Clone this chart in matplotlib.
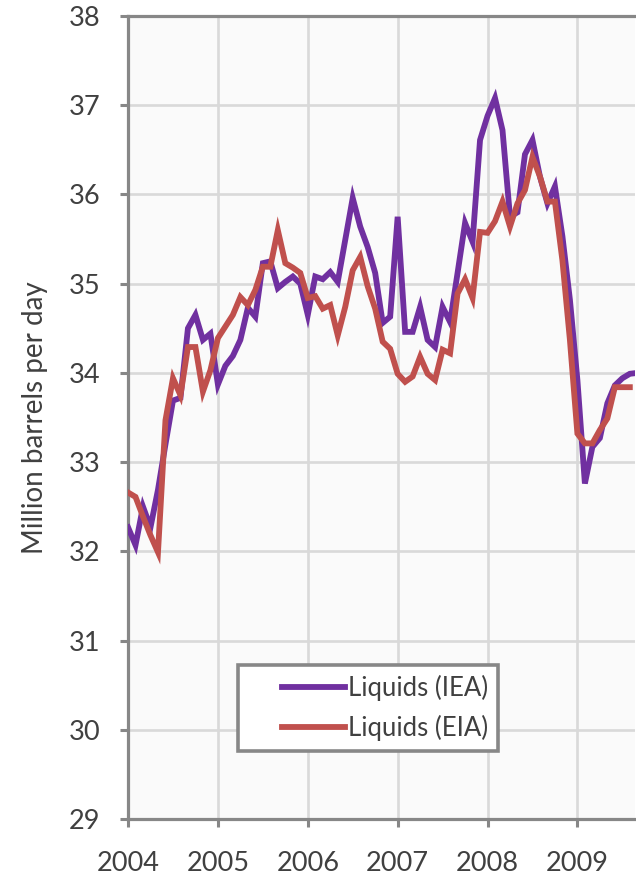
import matplotlib
matplotlib.use('Agg')
import matplotlib.pyplot as plt
from matplotlib.legend_handler import HandlerLine2D
import numpy as np

plt.rcParams['font.family'] = ['Lato', 'DejaVu Sans']

# monthly values, starting Jan 2004
iea_liquids = [32.27, 32.07, 32.50, 32.27, 32.69, 33.20, 33.69, 33.72, 34.50, 34.65, 34.37, 34.44,
               33.87, 34.08, 34.19, 34.37, 34.73, 34.63, 35.23, 35.25, 34.95, 35.02, 35.08, 35.00,
               34.65, 35.08, 35.05, 35.13, 35.02, 35.49, 35.96, 35.64, 35.41, 35.12, 34.56, 34.63,
               35.75, 34.46, 34.46, 34.74, 34.37, 34.29, 34.74, 34.57, 35.12, 35.68, 35.47, 36.61,
               36.88, 37.08, 36.72, 35.75, 35.80, 36.45, 36.61, 36.20, 35.90, 36.09, 35.53, 34.82,
               33.92, 32.76, 33.17, 33.27, 33.66, 33.86, 33.94, 33.99, 34.00]

eia_liquids = [32.66, 32.61, 32.39, 32.18, 31.99, 33.47, 33.94, 33.75, 34.29, 34.29, 33.79, 34.03,
               34.39, 34.52, 34.65, 34.85, 34.76, 34.93, 35.19, 35.19, 35.60, 35.23, 35.18, 35.12,
               34.84, 34.86, 34.72, 34.76, 34.42, 34.74, 35.15, 35.30, 34.97, 34.72, 34.35, 34.27,
               33.99, 33.90, 33.96, 34.18, 33.99, 33.92, 34.26, 34.22, 34.89, 35.05, 34.84, 35.58,
               35.57, 35.70, 35.92, 35.64, 35.90, 36.05, 36.42, 36.20, 35.92, 35.92, 35.26, 34.37,
               33.32, 33.21, 33.21, 33.36, 33.49, 33.84, 33.84, 33.84]

year_ticks = [2004, 2005, 2006, 2007, 2008, 2009]
value_ticks = [29, 30, 31, 32, 33, 34, 35, 36, 37, 38]

t_iea = 2004 + np.arange(len(iea_liquids)) / 12.0
t_eia = 2004 + np.arange(len(eia_liquids)) / 12.0

axis_grey = '#878787'
text_grey = '#404040'

fig = plt.figure(figsize=(6.36, 8.8), dpi=100)
ax = fig.add_axes([0.2013, 0.0693, 0.797, 0.9125])
ax.set_facecolor('#fafafa')

ax.plot(t_iea, iea_liquids, color='#7030a0', lw=4.2, label='Liquids (IEA)',
        solid_joinstyle='miter', zorder=3)
ax.plot(t_eia, eia_liquids, color='#c0504d', lw=4.2, label='Liquids (EIA)',
        solid_joinstyle='miter', zorder=4)

ax.set_xlim(2004, 2009.64)
ax.set_ylim(29, 38)
ax.set_xticks(year_ticks)
ax.set_yticks(value_ticks)
ax.grid(True, color='#d9d9d9', lw=1.9, zorder=0)
ax.set_axisbelow(True)

for side in ['left', 'bottom', 'top']:
    ax.spines[side].set_color(axis_grey)
    ax.spines[side].set_linewidth(2.3)
ax.spines['right'].set_visible(False)

ax.tick_params(axis='both', direction='out', length=6, width=2.2, color=axis_grey,
               labelsize=19.5, labelcolor=text_grey)
ax.tick_params(axis='y', pad=14)
ax.tick_params(axis='x', pad=17)

ax.set_ylabel('Million barrels per day', fontsize=20, color=text_grey, labelpad=15)

# legend: wide empty space left of the line samples, like in the reference
leg = ax.legend(loc='lower left', bbox_to_anchor=(0.217, 0.0847), fontsize=18.5,
                handlelength=3.77, handletextpad=0.12, labelspacing=0.55, borderpad=0.39,
                borderaxespad=0, fancybox=False, framealpha=1, edgecolor=axis_grey,
                handler_map={matplotlib.lines.Line2D: HandlerLine2D(xpad=1.32)})
leg.get_frame().set_linewidth(2.6)
leg.get_frame().set_facecolor('white')
for txt in leg.get_texts():
    txt.set_color(text_grey)

plt.savefig('out.png', dpi=100)
